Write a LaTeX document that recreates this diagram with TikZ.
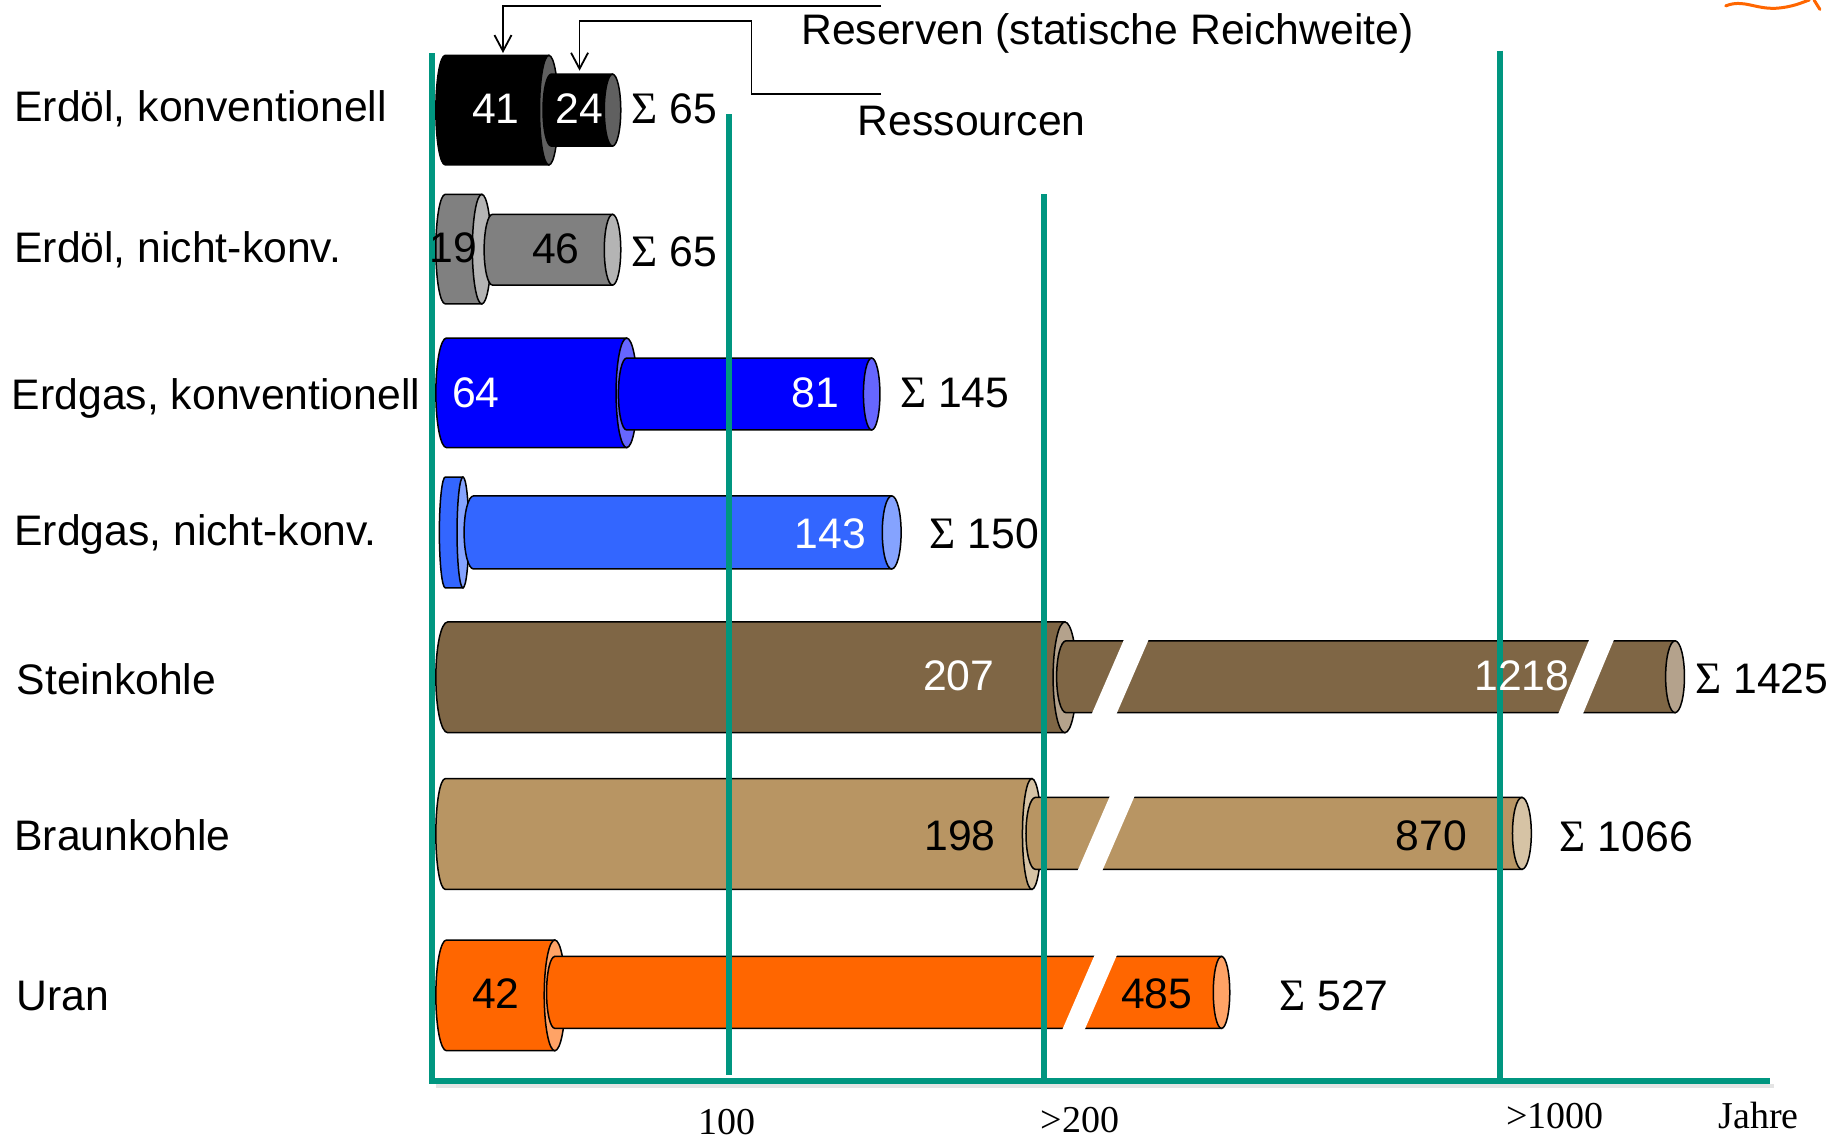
\documentclass[tikz,border=0pt]{standalone}
\usepackage{fontspec}
\setmainfont{Liberation Sans}
\newfontfamily\serifT{Liberation Serif}
\usetikzlibrary{arrows.meta}
\definecolor{gridgreen}{RGB}{0,150,128}
\definecolor{oilA}{RGB}{0,0,0}\definecolor{oilAc}{RGB}{96,96,96}
\definecolor{oilB}{RGB}{128,128,128}\definecolor{oilBc}{RGB}{180,180,180}
\definecolor{gasA}{RGB}{0,0,255}\definecolor{gasAc}{RGB}{102,102,255}
\definecolor{gasB}{RGB}{51,102,255}\definecolor{gasBc}{RGB}{133,163,255}
\definecolor{stein}{RGB}{127,102,69}\definecolor{steinc}{RGB}{180,162,140}
\definecolor{braun}{RGB}{184,149,99}\definecolor{braunc}{RGB}{214,195,165}
\definecolor{uran}{RGB}{255,102,0}\definecolor{uranc}{RGB}{255,163,102}
\tikzset{
  lbl/.style={anchor=base west, inner sep=0pt, font=\fontsize{42.7}{48}\selectfont},
  num/.style={anchor=base, inner sep=0pt, font=\fontsize{42.7}{48}\selectfont},
  axl/.style={anchor=base, inner sep=0pt, font=\serifT\fontsize{38}{44}\selectfont},
  gridline/.style={draw=gridgreen, line width=6pt},
  cylline/.style={draw=black, line width=1.5pt},
  brk/.style={fill=white},
  arr/.style={draw=black, line width=1.8pt, -{Straight Barb[length=16pt,width=17pt,line width=1.8pt]}},
}
% #1 body fill, #2 cap fill, #3 left extreme x, #4 cap centre x, #5 centre y, #6 y radius, #7 x radius
\newcommand\mycyl[7]{%
  \draw[cylline, fill=#1] ({#3+#7},{#5-#6}) -- (#4,{#5-#6}) -- (#4,{#5+#6}) -- ({#3+#7},{#5+#6})
     arc[start angle=90, end angle=270, x radius=#7, y radius=#6] -- cycle;
  \draw[cylline, fill=#2] (#4,#5) ellipse[x radius=#7, y radius=#6];
}
% break: #1 top-left x, #2 top y, #3 bottom y, #4 width, #5 slant
\newcommand\mybreak[5]{%
  \fill[brk] (#1,{#2-3}) -- ({#1+#4},{#2-3}) -- ({#1+#4-#5},{#3+3}) -- ({#1-#5},{#3+3}) -- cycle;
}
\newcommand\sig{{\serifT\fontsize{45}{48}\selectfont Σ}}
\begin{document}
\begin{tikzpicture}[x=1.178pt, y=-1.178pt]
\useasboundingbox (0,0) rectangle (1568,969);

% row labels
\node[lbl] (l1) at (12,103) {Erdöl, konventionell};
\node[lbl] (l2) at (12,223) {Erdöl, nicht-konv.};
\node[lbl] (l3) at (10,348) {Erdgas, konventionell};
\node[lbl] (l4) at (12,463) {Erdgas, nicht-konv.};
\node[lbl] (l5) at (14,590) {Steinkohle};
\node[lbl] (l6) at (12,722) {Braunkohle};
\node[lbl] (l7) at (14,858) {Uran};

% cylinders
\mycyl{oilA}{oilAc}{370}{466}{93.5}{46.5}{8}
\mycyl{oilA}{oilAc}{461}{520}{93.5}{30.5}{7}

\mycyl{oilB}{oilBc}{370}{409}{211.5}{46.5}{8}
\mycyl{oilB}{oilBc}{411}{520}{212}{30}{7}

\mycyl{gasA}{gasAc}{370}{532}{333.5}{46.5}{9}
\mycyl{gasA}{gasAc}{525}{740}{334.5}{30.5}{7}

\mycyl{gasB}{gasBc}{373}{393}{452}{47}{5}
\mycyl{gasB}{gasBc}{394}{757}{452}{31}{8}

\mycyl{stein}{steinc}{370}{904}{575}{47}{10}
\mycyl{stein}{steinc}{897}{1422}{574.5}{30.5}{8}
\mybreak{955}{544}{605}{21}{29}
\mybreak{1350}{544}{605}{21}{28}

\mycyl{braun}{braunc}{370}{876}{708}{47}{8}
\mycyl{braun}{braunc}{871}{1292}{707.5}{30.5}{8}
\mybreak{943}{677}{738}{21}{29}

\mycyl{uran}{uranc}{370}{471}{845}{47}{9}
\mycyl{uran}{uranc}{464}{1037}{842.5}{30.5}{7}
\mybreak{930}{812}{873}{19}{29}

% grid lines
\draw[gray!35, line width=4pt, opacity=0.6] (370,922) -- (1506,922);
\draw[gridline] (367,45) -- (367,918) -- (1503,918);
\draw[gridline] (619,97) -- (619,913);
\draw[gridline] (886,165) -- (886,918);
\draw[gridline] (1273,43) -- (1273,918);

% values
\node[num, white] (v1a) at (421,105) {41};
\node[num, white] (v1b) at (492,105) {24};
\node[lbl] (s1) at (536,105) {\sig\ 65};
\node[num] (v2a) at (385,223) {19};
\node[num] (v2b) at (472,224) {46};
\node[lbl] (s2) at (536,226) {\sig\ 65};
\node[num, white] (v3a) at (404,346) {64};
\node[num, white] (v3b) at (692,346) {81};
\node[lbl] (s3) at (764,346) {\sig\ 145};
\node[num, white] (v4b) at (705,466) {143};
\node[lbl] (s4) at (789,466) {\sig\ 150};
\node[num, white] (v5a) at (814,586) {207};
\node[num, white] (v5b) at (1292,586) {1218};
\node[lbl] (s5) at (1439,589) {\sig\ 1425};
\node[num] (v6a) at (815,722) {198};
\node[num] (v6b) at (1215,722) {870};
\node[lbl] (s6) at (1324,723) {\sig\ 1066};
\node[num] (v7a) at (421,856) {42};
\node[num] (v7b) at (982,856) {485};
\node[lbl] (s7) at (1086,858) {\sig\ 527};

% axis labels
\node[axl] (a1) at (617,963) {100};
\node[axl] (a2) at (917,961) {>200};
\node[axl] (a3) at (1320,958) {>1000};
\node[axl] (a4) at (1493,958) {Jahre};

% legend
\node[lbl] (res) at (680,38) {Reserven (statische Reichweite)};
\node[lbl] (ress) at (728,115) {Ressourcen};
\coordinate (resStart) at (748,5);
\coordinate (resTip) at (427,45);
\coordinate (ressStart) at (748,80);
\coordinate (ressBend) at (638,18);
\coordinate (ressTip) at (492,60);
\draw[arr] (resStart) -| (resTip);
\draw[arr] (ressStart) -| (ressBend) -| (ressTip);

% orange mark top right
\draw[uran, line width=3pt, line cap=round] (1465,5) .. controls (1480,-1) and (1490,8) .. (1508,7) .. controls (1522,6) and (1530,2) .. (1536,0);
\draw[uran, line width=3pt, line cap=round] (1540,0) -- (1545,8);
\end{tikzpicture}
\end{document}
